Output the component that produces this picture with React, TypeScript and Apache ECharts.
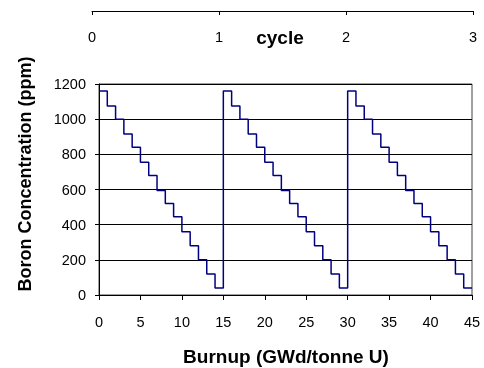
import React, { useEffect, useRef } from "react";
import * as echarts from "echarts";

// Boron concentration (ppm) for each 1 GWd/tonne U step of each cycle
const cycle1Boron = [1160, 1075, 1000, 915, 840, 755, 680, 595, 520, 445, 360, 280, 200, 120, 40];
const cycle2Boron = [1160, 1075, 1000, 915, 840, 755, 680, 595, 520, 445, 360, 280, 200, 120, 40];
const cycle3Boron = [1160, 1075, 1000, 915, 840, 755, 680, 595, 520, 445, 360, 280, 200, 120, 40];
const cycleStartBurnup = [0, 15, 30];
const cycleEndBurnup = 45;
const stepBurnup = 1;

const burnupTicks = { min: 0, max: 45, interval: 5 };
const boronTicks = { min: 0, max: 1200, interval: 200 };
const cycleTicks = { min: 0, max: 3, interval: 1 };

const FONT = "'Liberation Sans', Arial, Helvetica, sans-serif";

function buildData(): [number, number][] {
  const cycles = [cycle1Boron, cycle2Boron, cycle3Boron];
  const pts: [number, number][] = [];
  cycles.forEach((vals, c) => {
    vals.forEach((v, i) => {
      pts.push([cycleStartBurnup[c] + i * stepBurnup, v]);
    });
  });
  const lastVals = cycles[cycles.length - 1];
  pts.push([cycleEndBurnup, lastVals[lastVals.length - 1]]);
  return pts;
}

export default function App() {
  const ref = useRef<HTMLDivElement>(null);
  useEffect(() => {
    if (!ref.current) return;
    const chart = echarts.init(ref.current, undefined, { renderer: "svg" });
    const axisLine = { show: true, lineStyle: { color: "#000", width: 1 } };
    const plain = (v: number) => String(v);
    const option: any = {
      animation: false,
      textStyle: { fontFamily: FONT },
      grid: [
        { left: 99, top: 84, width: 373, height: 211, show: true, borderColor: "#404040", borderWidth: 1, backgroundColor: "transparent" },
        { left: 92, top: 10, width: 381, height: 1 },
      ],
      xAxis: [
        {
          gridIndex: 0, type: "value", ...burnupTicks,
          axisLine, axisTick: { show: true, length: 5, lineStyle: { color: "#000" } },
          axisLabel: { color: "#000", fontSize: 14.5, margin: 19, fontFamily: FONT, formatter: plain },
          splitLine: { show: false },
        },
        {
          gridIndex: 1, type: "value", position: "bottom", ...cycleTicks,
          axisLine, axisTick: { show: true, length: 4, lineStyle: { color: "#000" } },
          axisLabel: { color: "#000", fontSize: 14.5, margin: 18, fontFamily: FONT, formatter: plain },
          splitLine: { show: false },
        },
      ],
      yAxis: [
        {
          gridIndex: 0, type: "value", ...boronTicks,
          axisLine, axisTick: { show: true, length: 4, lineStyle: { color: "#000" } },
          axisLabel: { color: "#000", fontSize: 14.5, margin: 13, fontFamily: FONT, formatter: plain },
          splitLine: { show: true, lineStyle: { color: "#000", width: 1 } },
        },
        { gridIndex: 1, type: "value", show: false, min: 0, max: 1 },
      ],
      series: [
        {
          type: "line", xAxisIndex: 0, yAxisIndex: 0, step: "end",
          data: buildData(), symbol: "none", showSymbol: false,
          lineStyle: { color: "#000080", width: 1.5 },
        },
      ],
      graphic: [
        {
          type: "text", x: 280, y: 37,
          style: { text: "cycle", fontFamily: FONT, fontWeight: "bold", fontSize: 19, fill: "#000", textAlign: "center", textVerticalAlign: "middle" },
        },
        {
          type: "text", x: 286, y: 356,
          style: { text: "Burnup (GWd/tonne U)", fontFamily: FONT, fontWeight: "bold", fontSize: 19, fill: "#000", textAlign: "center", textVerticalAlign: "middle" },
        },
        {
          type: "text", x: 25, y: 174, rotation: Math.PI / 2,
          style: { text: "Boron Concentration (ppm)", fontFamily: FONT, fontWeight: "bold", fontSize: 18, fill: "#000", textAlign: "center", textVerticalAlign: "middle" },
        },
      ],
    };
    chart.setOption(option);
    return () => chart.dispose();
  }, []);
  return <div ref={ref} style={{ position: "fixed", left: 0, top: 0, width: 484, height: 368 }} />;
}
